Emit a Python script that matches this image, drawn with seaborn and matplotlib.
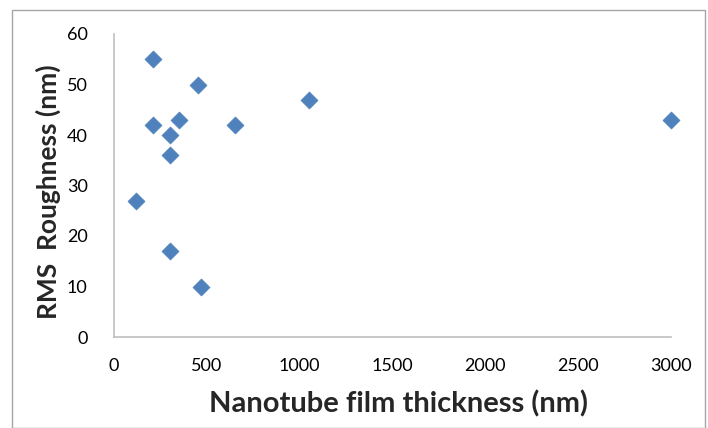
import numpy as np
import pandas as pd
import matplotlib.pyplot as plt
import seaborn as sns
from matplotlib.patches import Rectangle

# Film thickness (nm) vs RMS roughness (nm)
thickness = [120, 210, 210, 300, 300, 300, 350, 450, 470, 650, 1050, 3000]
roughness = [27, 55, 42, 40, 36, 17, 43, 50, 10, 42, 47, 43]
x_ticks = [0, 500, 1000, 1500, 2000, 2500, 3000]
y_ticks = [0, 10, 20, 30, 40, 50, 60]

df = pd.DataFrame({'Thickness': thickness, 'Roughness': roughness})

sns.set_style('white')
plt.rcParams['font.family'] = ['Lato', 'DejaVu Sans']

fig = plt.figure(figsize=(7.08, 4.28), dpi=100)
ax = fig.add_axes([114 / 708, 1 - 337 / 428, (671 - 114) / 708, (337 - 34) / 428])

sns.scatterplot(data=df, x='Thickness', y='Roughness', marker='D', s=75,
                color='#4F81BD', edgecolor='#4F81BD', linewidth=0.5,
                clip_on=False, zorder=3, ax=ax)

ax.set_xlim(0, 3000)
ax.set_ylim(0, 60)
ax.set_xticks(x_ticks)
ax.set_yticks(y_ticks)
ax.set_xlabel('Nanotube film thickness (nm)', fontsize=21, fontweight='bold')
ax.set_ylabel('RMS  Roughness (nm)', fontsize=19, fontweight='bold')
ax.xaxis.set_label_coords(0.51, -0.175)
ax.yaxis.set_label_coords(-0.095, 0.48)

for side in ['top', 'right']:
    ax.spines[side].set_visible(False)
for side in ['left', 'bottom']:
    ax.spines[side].set_color('#BFBFBF')
    ax.spines[side].set_linewidth(1.2)
ax.tick_params(axis='both', which='major', direction='out', length=5, width=1,
               color='#BFBFBF', labelsize=13, labelcolor='#000000')
ax.tick_params(axis='x', pad=10)
ax.tick_params(axis='y', pad=14)

# outer chart border
fig.patches.append(Rectangle((12 / 708, 0), (705 - 12) / 708, 1 - 10 / 428,
                             transform=fig.transFigure, fill=False,
                             edgecolor='#A6A6A6', linewidth=1))

fig.savefig('out.png', dpi=100)
